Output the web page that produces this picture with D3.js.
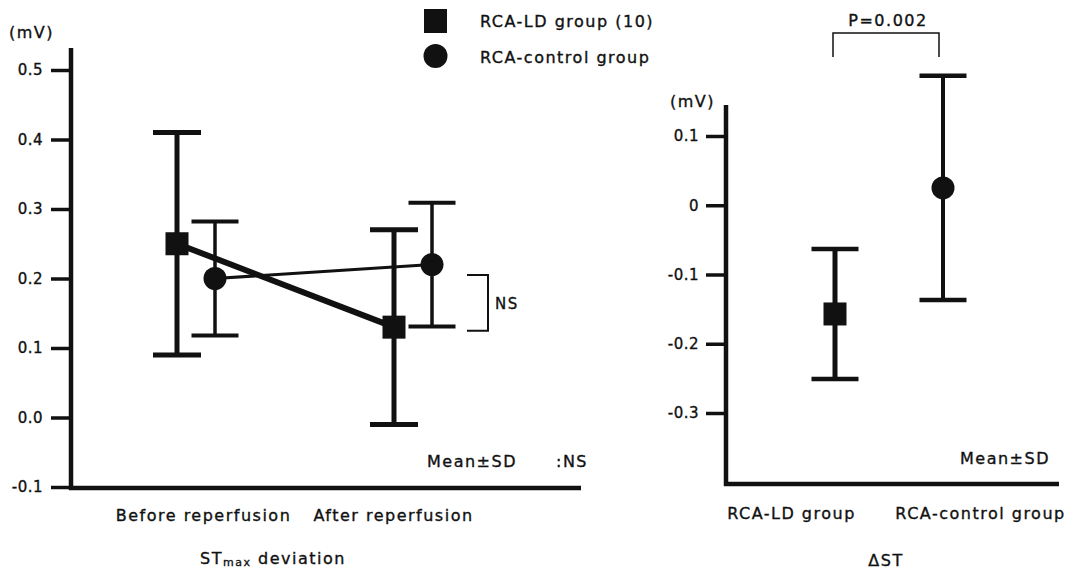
<!DOCTYPE html>
<html lang="en">
<head>
	<title>ST deviation</title>
	<script src="https://d3js.org/d3.v7.min.js" charset="utf-8"></script>
	<meta charset='utf-8'>
	<style>
	body { margin: 0; background: #fff; }
	text { font-family: "DejaVu Sans", "Noto Sans", sans-serif; fill: #111; stroke: #111; stroke-width: 0.35px; letter-spacing: 1.5px; }
	.axis path, .axis line { stroke: #111; }
	.axis .tick text { letter-spacing: 0.5px; }
	</style>
</head>
<body>
	<script>
	// left panel data
	var phases = ["Before reperfusion", "After reperfusion"];
	var ldMean = [0.25, 0.13];
	var ldSD = [0.16, 0.14];
	var ctrlMean = [0.2, 0.22];
	var ctrlSD = [0.082, 0.089];
	var leftTicks = [-0.1, 0.0, 0.1, 0.2, 0.3, 0.4, 0.5];
	var leftTickLabels = ["-0.1", "0.0", "0.1", "0.2", "0.3", "0.4", "0.5"];

	// right panel data
	var groups = ["RCA-LD group", "RCA-control group"];
	var dMean = [-0.157, 0.025];
	var dSD = [0.094, 0.162];
	var rightTicks = [-0.3, -0.2, -0.1, 0, 0.1];
	var rightTickLabels = ["-0.3", "-0.2", "-0.1", "0", "0.1"];

	var width = 1076;
	var height = 574;

	var svg = d3.select('body')
	.append('svg')
	.attr('width', width)
	.attr('height', height);

	function errorBar(g, x, mean, sd, y, capW, stemW, capStroke) {
		g.append("line")
		.attr("x1", x).attr("x2", x)
		.attr("y1", y(mean + sd)).attr("y2", y(mean - sd))
		.attr("stroke", "#111").attr("stroke-width", stemW);
		[mean + sd, mean - sd].forEach(function(v) {
			g.append("line")
			.attr("x1", x - capW / 2).attr("x2", x + capW / 2)
			.attr("y1", y(v)).attr("y2", y(v))
			.attr("stroke", "#111").attr("stroke-width", capStroke);
		});
	}

	// ---------- left panel ----------
	var yL = d3.scaleLinear().domain([-0.1, 0.5]).range([487, 70]);
	var xL = d3.scalePoint().domain(phases).range([196, 413]);
	var xLab = d3.scalePoint().domain(phases).range([203, 393]);
	var off = 19;

	var left = svg.append('g');

	left.append("g")
	.attr("class", "axis")
	.attr("transform", "translate(71,0)")
	.call(d3.axisLeft(yL).tickValues(leftTicks).tickFormat(function(d, i) { return leftTickLabels[i]; }).tickSize(20).tickPadding(8))
	.call(function(g) {
		g.select(".domain").remove();
		g.selectAll(".tick line").attr("stroke-width", 3.5);
		g.selectAll(".tick text").attr("font-size", 15);
	});

	left.append("line").attr("x1", 71).attr("x2", 71).attr("y1", 48).attr("y2", 490)
	.attr("stroke", "#111").attr("stroke-width", 4.5);
	left.append("line").attr("x1", 69).attr("x2", 581).attr("y1", 488).attr("y2", 488)
	.attr("stroke", "#111").attr("stroke-width", 4.5);

	left.append("text").attr("x", 9).attr("y", 38).attr("font-size", 16).text("(mV)");

	left.append("g")
	.attr("transform", "translate(0,488)")
	.call(d3.axisBottom(xLab).tickSize(0).tickPadding(22))
	.call(function(g) {
		g.select(".domain").remove();
		g.selectAll("text").attr("font-size", 16);
	});

	var stTitle = left.append("text").attr("x", 200).attr("y", 564).attr("font-size", 16);
	stTitle.append("tspan").text("ST");
	stTitle.append("tspan").attr("font-size", 11).attr("dy", 2).text("max");
	stTitle.append("tspan").attr("dy", -2).text(" deviation");

	var ctrlLine = d3.line()
	.x(function(d, i) { return xL(phases[i]) + off; })
	.y(function(d) { return yL(d); });
	var ldLine = d3.line()
	.x(function(d, i) { return xL(phases[i]) - off; })
	.y(function(d) { return yL(d); });

	phases.forEach(function(p, i) {
		errorBar(left, xL(p) - off, ldMean[i], ldSD[i], yL, 48, 5, 5);
		errorBar(left, xL(p) + off, ctrlMean[i], ctrlSD[i], yL, 47, 3.5, 4);
	});

	left.append("path").datum(ctrlMean)
	.attr("d", ctrlLine).attr("fill", "none").attr("stroke", "#111").attr("stroke-width", 3);
	left.append("path").datum(ldMean)
	.attr("d", ldLine).attr("fill", "none").attr("stroke", "#111").attr("stroke-width", 6);

	left.selectAll(".ldpt").data(ldMean).enter()
	.append("rect")
	.attr("x", function(d, i) { return xL(phases[i]) - off - 11.5; })
	.attr("y", function(d) { return yL(d) - 11.5; })
	.attr("width", 23).attr("height", 23).attr("fill", "#111");

	left.selectAll(".ctpt").data(ctrlMean).enter()
	.append("circle")
	.attr("cx", function(d, i) { return xL(phases[i]) + off; })
	.attr("cy", function(d) { return yL(d); })
	.attr("r", 11.5).attr("fill", "#111");

	// NS bracket
	left.append("path")
	.attr("d", "M467," + yL(0.205) + "H488V" + yL(0.125) + "H467")
	.attr("fill", "none").attr("stroke", "#111").attr("stroke-width", 2);
	left.append("text").attr("x", 495).attr("y", yL(0.165) + 6).attr("font-size", 15).text("NS");

	left.append("text").attr("x", 427).attr("y", 467).attr("font-size", 16).text("Mean\u00b1SD");
	left.append("text").attr("x", 556).attr("y", 467).attr("font-size", 16).text(":NS");

	// legend
	var legend = svg.append("g");
	legend.append("rect").attr("x", 424).attr("y", 9).attr("width", 23).attr("height", 24).attr("fill", "#111");
	legend.append("circle").attr("cx", 435.5).attr("cy", 56).attr("r", 12).attr("fill", "#111");
	legend.append("text").attr("x", 480).attr("y", 27).attr("font-size", 16).text("RCA-LD group (10)");
	legend.append("text").attr("x", 480).attr("y", 63).attr("font-size", 16).text("RCA-control group");

	// ---------- right panel ----------
	var yR = d3.scaleLinear().domain([-0.3, 0.1]).range([413, 136]);
	var xR = d3.scalePoint().domain(groups).range([835, 943]);
	var xRLab = d3.scalePoint().domain(groups).range([791, 980]);

	var right = svg.append("g");

	right.append("g")
	.attr("class", "axis")
	.attr("transform", "translate(726,0)")
	.call(d3.axisLeft(yR).tickValues(rightTicks).tickFormat(function(d, i) { return rightTickLabels[i]; }).tickSize(20).tickPadding(7))
	.call(function(g) {
		g.select(".domain").remove();
		g.selectAll(".tick line").attr("stroke-width", 3.5);
		g.selectAll(".tick text").attr("font-size", 15);
	});

	right.append("line").attr("x1", 726).attr("x2", 726).attr("y1", 105).attr("y2", 486)
	.attr("stroke", "#111").attr("stroke-width", 4.5);
	right.append("line").attr("x1", 724).attr("x2", 1059).attr("y1", 484).attr("y2", 484)
	.attr("stroke", "#111").attr("stroke-width", 4.5);

	right.append("text").attr("x", 670).attr("y", 107).attr("font-size", 16).text("(mV)");

	right.append("g")
	.attr("transform", "translate(0,484)")
	.call(d3.axisBottom(xRLab).tickSize(0).tickPadding(24))
	.call(function(g) {
		g.select(".domain").remove();
		g.selectAll("text").attr("font-size", 16);
	});

	right.append("text").attr("x", 886).attr("y", 566).attr("text-anchor", "middle").attr("font-size", 16).text("\u0394ST");

	groups.forEach(function(gname, i) {
		errorBar(right, xR(gname), dMean[i], dSD[i], yR, 47, i === 0 ? 5 : 4, 4.5);
	});
	right.append("rect")
	.attr("x", xR(groups[0]) - 11.5).attr("y", yR(dMean[0]) - 11.5)
	.attr("width", 23).attr("height", 23).attr("fill", "#111");
	right.append("circle")
	.attr("cx", xR(groups[1])).attr("cy", yR(dMean[1]))
	.attr("r", 11.5).attr("fill", "#111");

	// P bracket
	right.append("path")
	.attr("d", "M" + (xR(groups[0]) - 2) + ",57V33H" + (xR(groups[1]) - 4) + "V57")
	.attr("fill", "none").attr("stroke", "#111").attr("stroke-width", 1.5);
	right.append("text").attr("x", 888).attr("y", 26).attr("text-anchor", "middle").attr("font-size", 16).text("P=0.002");

	right.append("text").attr("x", 960).attr("y", 464).attr("font-size", 16).text("Mean\u00b1SD");
	</script>
</body>
</html>
